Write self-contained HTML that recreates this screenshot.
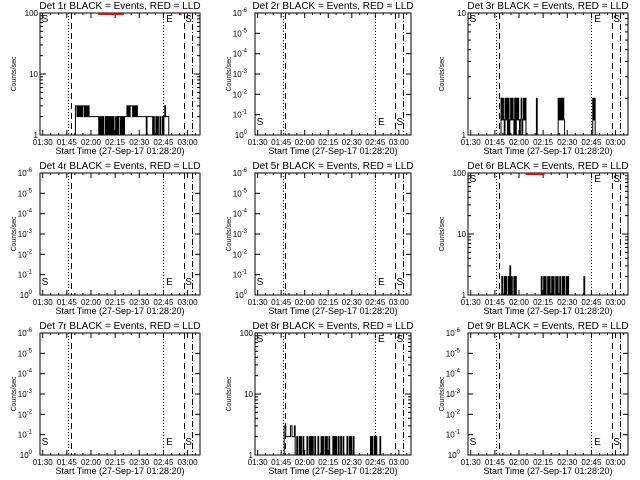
<!DOCTYPE html>
<html><head><meta charset="utf-8"><style>
html,body{margin:0;padding:0;background:#fff;}
svg{display:block;font-family:"Liberation Sans",sans-serif;}
</style></head><body>
<svg id="c" width="640" height="480" viewBox="0 0 640 480"></svg>
<script>
// ---- data (minutes since 01:28:20, 0.5-min bins) ----
const xTickLabels = ["01:30","01:45","02:00","02:15","02:30","02:45","03:00"];
const xTickMinutes = [1.67,16.67,31.67,46.67,61.67,76.67,91.67];
const markerMinutes = [17.7,19.2,76.7,89.5,94.2];
const markerStyles = ["dot","dash","dot","dash","dashdot"];
const titles = ["Det 1r","Det 2r","Det 3r","Det 4r","Det 5r","Det 6r","Det 7r","Det 8r","Det 9r"];
const logRanges = [[1,100],null,[1,10],null,null,[1,100],null,[1,100],null];
const degenerateLabels = ["-6","-5","-4","-3","-2","-1","0"];
const binMinutes = 0.5;
const startMin = [21,0,20.5,0,0,20.5,0,18.6,0];
const series1 = "1133232323233232323222222222222121212112121212121211212122121212223232333232323222222222221222222212112121121121232222";
const series3 = "2h2h12h2121h2h2h1212h2h1h21h2h211111111111112111111111111111111111111112h2h2h2h111111111111111111111111111111111112h2";
const series6 = "12112121121312112121111111111111111111111111111111211212112121121211212112112121121211111111111111111112";
const series8 = "332222223322231121121211211112112121211211121112121121211211112121211211211211112112121121111111111111111111112121121211112";
const seriesList = [series1,"",series3,"","",series6,"",series8,""];
const redStart = [36.2,null,null,null,null,35.8,null,null,null];
const redEnd = [51.8,null,null,null,null,47.6,null,null,null];
const redExtra = [86.6,null,null,null,null,null,null,null,null];
const levelMap = {"1":1,"2":2,"3":3,"4":4,"h":1.33};

const NS="http://www.w3.org/2000/svg";
const svg=document.getElementById('c');
function mk(tag,attrs,parent){const e=document.createElementNS(NS,tag);for(const k in attrs)e.setAttribute(k,attrs[k]);(parent||svg).appendChild(e);return e;}

const colLeft=[40,255,468], colW=[160,156,160], rowTop=[13,173,333], H=122, XMAX=99.4;

for(let p=0;p<9;p++){
  const r=Math.floor(p/3), c=p%3;
  const L=colLeft[c], W=colW[c], T=rowTop[r], B=T+H;
  const g=mk('g',{});
  
  
  const xs=m=>L+m/XMAX*W;
  const rng=logRanges[p];
  const ys=v=>{ if(!rng) return B; const a=Math.log10(rng[0]),b=Math.log10(rng[1]); return B-(Math.log10(Math.max(v,rng[0]))-a)/(b-a)*H; };
  const t=mk('text',{x:L+W/2,y:T-4,'font-size':10,'text-anchor':'middle'},g);
  t.textContent=titles[p]+" BLACK = Events, RED = LLD";
  
  
  const fr=mk('rect',{x:L,y:T,width:W,height:H,fill:'none',stroke:'#000','stroke-width':1},g);
  
  
  for(let k=0;k<xTickMinutes.length;k++){
    const x=xs(xTickMinutes[k]);
    mk('line',{x1:x,y1:B,x2:x,y2:B-5,stroke:'#000'},g);
    mk('line',{x1:x,y1:T,x2:x,y2:T+5,stroke:'#000'},g);
    const tl=mk('text',{x:x,y:B+10,'font-size':8,'text-anchor':'middle'},g);
    tl.textContent=xTickLabels[k];
    
    
    for(let j=1;j<3;j++){const xm=xs(xTickMinutes[k]+j*5); if(xm<L+W){mk('line',{x1:xm,y1:B,x2:xm,y2:B-2,stroke:'#000'},g);mk('line',{x1:xm,y1:T,x2:xm,y2:T+2,stroke:'#000'},g);}}
  }
  const xt=mk('text',{x:L+W/2,y:B+19,'font-size':9,'text-anchor':'middle'},g);
  xt.textContent="Start Time (27-Sep-17 01:28:20)";
  
  
  const yt=mk('text',{x:0,y:0,'font-size':7,'text-anchor':'middle',transform:`translate(${L-24},${T+H/2}) rotate(-90)`},g);
  yt.textContent="Counts/sec";
  
  
  if(rng){
    const a=Math.log10(rng[0]),b=Math.log10(rng[1]);
    for(let e=a;e<=b;e++){
      const y=ys(Math.pow(10,e));
      mk('line',{x1:L,y1:y,x2:L+6,y2:y,stroke:'#000'},g);
      mk('line',{x1:L+W,y1:y,x2:L+W-6,y2:y,stroke:'#000'},g);
      const yl=mk('text',{x:L-2,y:y+3,'font-size':8,'text-anchor':'end'},g);
      yl.textContent=String(Math.pow(10,e));
      
      
      if(e<b) for(let m=2;m<10;m++){const ym=ys(m*Math.pow(10,e));mk('line',{x1:L,y1:ym,x2:L+3,y2:ym,stroke:'#000'},g);mk('line',{x1:L+W,y1:ym,x2:L+W-3,y2:ym,stroke:'#000'},g);}
    }
  } else {
    const n=degenerateLabels.length;
    for(let k=0;k<n;k++){
      const y=T+k*(H/(n-1));
      mk('line',{x1:L,y1:y,x2:L+5,y2:y,stroke:'#000'},g);
      mk('line',{x1:L+W,y1:y,x2:L+W-5,y2:y,stroke:'#000'},g);
      const yl=mk('text',{x:L-8,y:y+3,'font-size':8,'text-anchor':'end'},g);
      yl.textContent="10";
      const sp=mk('tspan',{dy:-4,'font-size':6},yl);
      sp.textContent=degenerateLabels[k];
      
      
    }
  }
  for(let k=0;k<markerMinutes.length;k++){
    const x=Math.round(xs(markerMinutes[k]))+0.5;
    const da={dot:'1,2',dash:'6,4',dashdot:'6,2,1,2'}[markerStyles[k]];
    const ml=mk('line',{x1:x,y1:T,x2:x,y2:B,stroke:'#000','stroke-dasharray':da},g);
    
    
  }
  const ly = rng ? T+9 : B-10;
  const lab=[["S",L+5],["E",xs(markerMinutes[2])+6],["S",xs(markerMinutes[4])-3]];
  for(const [s,x] of lab){
    const lt=mk('text',{x:x,y:ly,'font-size':10,'text-anchor':'middle'},g);
    lt.textContent=s;
    
    
  }
  const s=seriesList[p];
  if(s && rng){
    let d=`M${xs(startMin[p]).toFixed(2)},${B}`;
    for(let i=0;i<s.length;i++){
      const v=levelMap[s[i]];
      const x0=xs(startMin[p]+i*binMinutes), x1=xs(startMin[p]+(i+1)*binMinutes), y=ys(v);
      d+=`L${x0.toFixed(2)},${y.toFixed(2)}L${x1.toFixed(2)},${y.toFixed(2)}`;
    }
    d+=`L${xs(startMin[p]+s.length*binMinutes).toFixed(2)},${B}`;
    const path=mk('path',{d:d,fill:'none',stroke:'#000','stroke-width':1},g);
    
    
  }
  if(redStart[p]!=null){
    const rl=mk('line',{x1:xs(redStart[p]),y1:T+1,x2:xs(redEnd[p]),y2:T+1,stroke:'#f00','stroke-width':2},g);
    
    
    if(redExtra[p]!=null){
      const re=mk('line',{x1:xs(redExtra[p]),y1:T+1,x2:xs(redExtra[p])+2,y2:T+1,stroke:'#f00','stroke-width':2},g);
      
      
    }
  }
}
</script>
</body></html>
